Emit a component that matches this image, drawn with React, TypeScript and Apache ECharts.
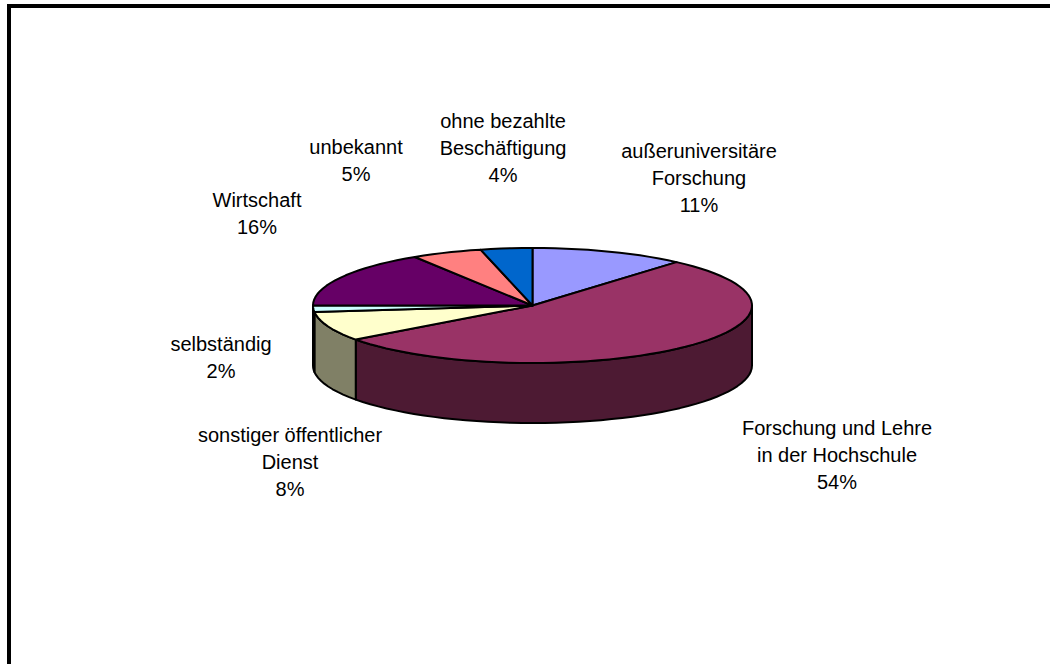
import React, { useEffect, useRef } from "react";
import * as echarts from "echarts";

const categories = [
  "außeruniversitäre\nForschung",
  "Forschung und Lehre\nin der Hochschule",
  "sonstiger öffentlicher\nDienst",
  "selbständig",
  "Wirtschaft",
  "unbekannt",
  "ohne bezahlte\nBeschäftigung",
];
const shares = [11.4, 53.5, 8.3, 1.8, 16, 5.2, 3.8];
const shareLabels = ["11%", "54%", "8%", "2%", "16%", "5%", "4%"];
const topColors = ["#9999FF", "#993366", "#FFFFCC", "#CCFFFF", "#660066", "#FF8080", "#0066CC"];
const sideColors = ["#4D4D80", "#4D1A33", "#808066", "#668080", "#330033", "#804040", "#003366"];

const CX = 532.5;
const CY = 305.5;
const RX = 219.5;
const RY = 57.5;
const DEPTH = 60;
const labelCenters: [number, number][] = [
  [699, 137],
  [837, 414],
  [290, 421],
  [221, 330],
  [257, 186],
  [356, 133],
  [503, 107],
];

const rad = (d: number) => (d * Math.PI) / 180;
const pt = (deg: number, dy = 0): number[] => [
  CX + RX * Math.sin(rad(deg)),
  CY - RY * Math.cos(rad(deg)) + dy,
];
const arc = (a: number, b: number, dy = 0): number[][] => {
  const out: number[][] = [];
  const n = Math.max(1, Math.ceil((b - a) / 3));
  for (let i = 0; i <= n; i++) out.push(pt(a + ((b - a) * i) / n, dy));
  return out;
};

const total = shares.reduce((s, v) => s + v, 0);

export default function App() {
  const ref = useRef<HTMLDivElement>(null);
  useEffect(() => {
    document.documentElement.style.overflow = "hidden";
    const chart = echarts.init(ref.current!, undefined, { renderer: "svg" });
    chart.setOption({
      animation: false,
      backgroundColor: "#fff",
      graphic: [
        { type: "rect", shape: { x: 7, y: 4, width: 1043, height: 4 }, style: { fill: "#000" } },
        { type: "rect", shape: { x: 7, y: 4, width: 4, height: 660 }, style: { fill: "#000" } },
      ],
      series: [
        {
          type: "custom",
          coordinateSystem: "none",
          data: shares.map((v, i) => ({ value: v, name: categories[i] })),
          renderItem: (params: any, api: any) => {
            const i = params.dataIndex;
            let before = 0;
            for (let k = 0; k < i; k++) before += shares[k];
            const start = (before / total) * 360;
            const end = ((before + api.value(0)) / total) * 360;
            const children: any[] = [];
            const sa = Math.max(start, 90);
            const sb = Math.min(end, 270);
            if (sb > sa) {
              const upper = arc(sa, sb);
              const lower = arc(sa, sb, DEPTH).reverse();
              children.push({
                type: "polygon",
                z2: 1,
                shape: { points: [...upper, ...lower] },
                style: { fill: sideColors[i], stroke: "#000", lineWidth: 2, lineJoin: "round" },
              });
            }
            children.push({
              type: "polygon",
              z2: 2,
              shape: { points: [[CX, CY], ...arc(start, end)] },
              style: { fill: topColors[i], stroke: "#000", lineWidth: 2, lineJoin: "round" },
            });
            children.push({
              type: "text",
              z2: 3,
              x: labelCenters[i][0],
              y: labelCenters[i][1],
              style: {
                text: `${categories[i]}\n${shareLabels[i]}`,
                fill: "#000",
                font: '20px "Liberation Sans", Arial, sans-serif',
                lineHeight: 27,
                align: "center",
                verticalAlign: "top",
              },
            });
            return { type: "group", children };
          },
        },
      ],
    });
    return () => chart.dispose();
  }, []);
  return <div ref={ref} style={{ position: "absolute", left: 0, top: 0, width: 1050, height: 664 }} />;
}
